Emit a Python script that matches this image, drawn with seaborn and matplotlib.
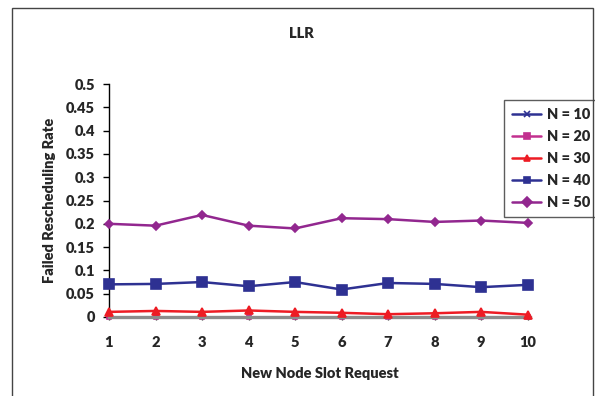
import matplotlib
matplotlib.use("Agg")
import matplotlib.pyplot as plt
import seaborn as sns
import pandas as pd
from matplotlib.patches import Rectangle

sns.set_style("white")
plt.rcParams['font.family'] = ['Lato', 'DejaVu Sans']

requests = [1, 2, 3, 4, 5, 6, 7, 8, 9, 10]
n10 = [0, 0, 0, 0, 0, 0, 0, 0, 0, 0]
n20 = [0, 0, 0, 0, 0, 0, 0, 0, 0, 0]
n30 = [0.011, 0.013, 0.011, 0.014, 0.011, 0.009, 0.006, 0.008, 0.011, 0.005]
n40 = [0.070, 0.071, 0.075, 0.066, 0.075, 0.059, 0.073, 0.071, 0.064, 0.069]
n50 = [0.200, 0.196, 0.219, 0.196, 0.190, 0.212, 0.210, 0.204, 0.207, 0.202]
labels = ["N = 10", "N = 20", "N = 30", "N = 40", "N = 50"]
yticks = [0, 0.05, 0.1, 0.15, 0.2, 0.25, 0.3, 0.35, 0.4, 0.45, 0.5]
yticklabels = ["0", "0.05", "0.1", "0.15", "0.2", "0.25", "0.3", "0.35", "0.4", "0.45", "0.5"]

series = [n10, n20, n30, n40, n50]
colors = ["#2E3192", "#C2308F", "#ED1C24", "#2E3192", "#92278F"]
markers = ["x", "s", "^", "s", "D"]
msizes = [3.5, 3.5, 5.5, 7, 4.5]
zorders = [1.5, 1.6, 3, 3, 3]

fig = plt.figure(figsize=(5.95, 3.96), dpi=100)
ax = fig.add_axes([109/595, 1-317/396, (530-109)/595, (317-84)/396])

for vals, lab, c, m, ms, z in zip(series, labels, colors, markers, msizes, zorders):
    df = pd.DataFrame({"x": requests, "y": vals})
    sns.lineplot(data=df, x="x", y="y", ax=ax, color=c, marker=m, markersize=ms,
                 markeredgecolor=c, markerfacecolor=c, linewidth=1.8, label=lab,
                 zorder=z, clip_on=False, markeredgewidth=1.2)

ax.set_xlim(1, 10.05)
ax.set_ylim(0, 0.5)
ax.set_xticks(requests)
ax.set_xticklabels([str(r) for r in requests], fontsize=10.5, fontweight="heavy")
ax.set_yticks(yticks)
ax.set_yticklabels(yticklabels, fontsize=10.5, fontweight="heavy")
ax.set_xlabel("New Node Slot Request", fontsize=10.5, fontweight="heavy", labelpad=13)
ax.set_ylabel("Failed Rescheduling Rate", fontsize=10.5, fontweight="heavy", labelpad=7)

for s in ["top", "right"]:
    ax.spines[s].set_visible(False)
ax.spines["left"].set_color("black")
ax.spines["left"].set_linewidth(1.0)
ax.spines["bottom"].set_color("#8C8C8C")
ax.spines["bottom"].set_linewidth(2.4)
ax.spines["bottom"].set_zorder(2.5)
ax.tick_params(axis="y", direction="out", length=4, width=1, color="black", pad=6, left=True)
ax.tick_params(axis="x", direction="inout", length=5, width=1, color="#333333", pad=11, bottom=True)

leg = ax.legend(loc="upper left", bbox_to_anchor=(504/595, 1-100/396),
                bbox_transform=fig.transFigure, frameon=True, fancybox=False,
                prop={"weight": "heavy", "size": 10.5}, handlelength=2.0,
                handletextpad=0.4, labelspacing=0.62, borderpad=0.55, borderaxespad=0)
leg.get_frame().set_edgecolor("#333333")
leg.get_frame().set_linewidth(1.0)
for h in leg.legend_handles:
    h.set_markersize(5)

fig.text(301/595, 1-33/396, "LLR", ha="center", va="center", fontsize=10.5, fontweight="heavy")

fig.patches.append(Rectangle((12/595, -0.1), (593-12)/595, 1.1-8/396, transform=fig.transFigure,
                             fill=False, edgecolor="#444444", linewidth=1.0))

fig.savefig("out.png", dpi=100)
